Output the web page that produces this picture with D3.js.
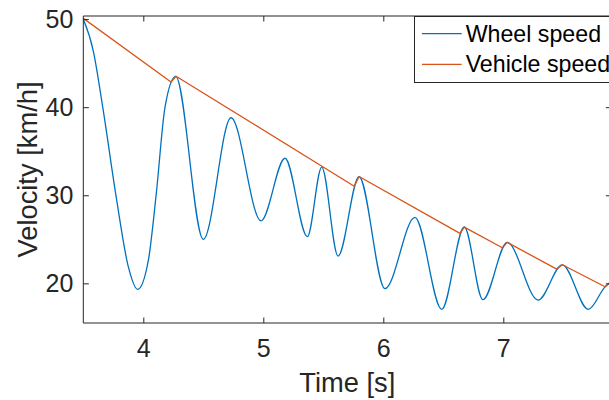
<!DOCTYPE html>
<html>
<head>
<meta charset="utf-8">
<script src="https://cdn.jsdelivr.net/npm/d3@7"></script>
<style>
  html, body { margin: 0; padding: 0; background: #fff; }
  svg { display: block; font-family: Arial, "Liberation Sans", sans-serif; }
</style>
</head>
<body>
<div id="chart"></div>
<script>
// Wheel speed during braking (ABS cycles) [time s, km/h]
const wheelTime  = [3.500, 3.583, 3.662, 3.773, 3.875, 3.953, 4.042, 4.106, 4.181, 4.270,
                    4.500, 4.731, 4.981, 5.181, 5.367, 5.487, 5.623, 5.798, 6.014, 6.264,
                    6.487, 6.675, 6.830, 7.033, 7.290, 7.492, 7.708, 7.848, 7.881, 7.900];
const wheelSpeed = [50.0, 46.4, 40.0, 29.9, 21.9, 19.32, 22.6, 29.9, 40.0, 43.5,
                    25.0, 38.8, 27.1, 34.2, 25.3, 33.2, 23.1, 32.1, 19.4, 27.5,
                    17.05, 26.4, 18.15, 24.65, 18.1, 22.1, 17.05, 19.6, 20.0, 20.25];

// Estimated vehicle speed [time s, km/h]
const vehicleTime  = [3.500, 4.231, 4.273, 5.758, 5.798, 6.639, 6.675, 6.992, 7.033,
                      7.445, 7.492, 7.848, 7.881, 7.900];
const vehicleSpeed = [50.08, 42.86, 43.51, 31.03, 32.13, 25.67, 26.38, 24.04, 24.65,
                      21.62, 22.11, 19.61, 20.0, 20.25];

const xTicks = [4, 5, 6, 7];
const yTicks = [20, 30, 40, 50];
const seriesNames = ["Wheel speed", "Vehicle speed"];
const seriesColors = ["#0072BD", "#D95319"];

const W = 609, H = 400;
const m = { left: 83.3, top: 16, right: 611.3, bottom: 323 };
const axisColor = "#262626";

const svg = d3.select("#chart").append("svg")
  .attr("width", W).attr("height", H);

const x = d3.scaleLinear().domain([3.5, 7.9]).range([m.left, m.right]);
const y = d3.scaleLinear().domain([15.5, 50.35]).range([m.bottom, m.top]);

svg.append("defs").append("clipPath").attr("id", "plotClip")
  .append("rect")
  .attr("x", m.left).attr("y", m.top)
  .attr("width", m.right - m.left).attr("height", m.bottom - m.top);

// Data lines
const plot = svg.append("g").attr("clip-path", "url(#plotClip)");

const wheelData = wheelTime.map((t, i) => [t, wheelSpeed[i]]);
const vehicleData = vehicleTime.map((t, i) => [t, vehicleSpeed[i]]);

plot.append("path")
  .datum(wheelData)
  .attr("fill", "none")
  .attr("stroke", seriesColors[0])
  .attr("stroke-width", 1.3)
  .attr("d", d3.line().x(d => x(d[0])).y(d => y(d[1])).curve(d3.curveMonotoneX));

plot.append("path")
  .datum(vehicleData)
  .attr("fill", "none")
  .attr("stroke", seriesColors[1])
  .attr("stroke-width", 1.3)
  .attr("stroke-linejoin", "round")
  .attr("d", d3.line().x(d => x(d[0])).y(d => y(d[1])));

// Axes (box style, ticks pointing inward)
const tickLen = 5.5;
const tickFont = 25;

const xBottom = svg.append("g").attr("transform", `translate(0,${m.bottom})`)
  .call(d3.axisBottom(x).tickValues(xTicks).tickSize(-tickLen).tickPadding(16).tickFormat(d3.format("d")));
const xTop = svg.append("g").attr("transform", `translate(0,${m.top})`)
  .call(d3.axisTop(x).tickValues(xTicks).tickSize(-tickLen).tickFormat(""));
const yLeft = svg.append("g").attr("transform", `translate(${m.left},0)`)
  .call(d3.axisLeft(y).tickValues(yTicks).tickSize(-tickLen).tickPadding(10).tickFormat(d3.format("d")));
const yRight = svg.append("g").attr("transform", `translate(${m.right},0)`)
  .call(d3.axisRight(y).tickValues(yTicks).tickSize(-tickLen).tickFormat(""));

[xBottom, xTop, yLeft, yRight].forEach(g => {
  g.select(".domain").attr("stroke", axisColor).attr("stroke-width", 1)
    .attr("d", g === xBottom || g === xTop
      ? `M${m.left},0H${m.right}`
      : `M0,${m.top}V${m.bottom}`);
  g.selectAll(".tick line").attr("stroke", axisColor).attr("stroke-width", 1);
  g.selectAll(".tick text")
    .attr("fill", axisColor)
    .style("font-size", tickFont + "px")
    .style("font-family", "Arial, 'Liberation Sans', sans-serif");
});
xBottom.selectAll(".tick text").attr("dy", "0.71em");

// Axis titles
svg.append("text")
  .attr("x", (m.left + m.right) / 2).attr("y", 392)
  .attr("text-anchor", "middle")
  .attr("fill", axisColor)
  .style("font-size", "27.3px")
  .text("Time [s]");

svg.append("text")
  .attr("transform", `translate(37,${(m.top + m.bottom) / 2}) rotate(-90)`)
  .attr("text-anchor", "middle")
  .attr("fill", axisColor)
  .style("font-size", "27.3px")
  .text("Velocity [km/h]");

// Legend
const legend = svg.append("g");
legend.append("rect")
  .attr("x", 414.5).attr("y", 16.5)
  .attr("width", 260).attr("height", 66)
  .attr("fill", "#fff")
  .attr("stroke", axisColor)
  .attr("stroke-width", 1);

const legendRows = [33.7, 64.3];
seriesNames.forEach((name, i) => {
  legend.append("line")
    .attr("x1", 422).attr("x2", 461.7)
    .attr("y1", legendRows[i]).attr("y2", legendRows[i])
    .attr("stroke", seriesColors[i])
    .attr("stroke-width", 1.3);
  legend.append("text")
    .attr("x", 465.7).attr("y", legendRows[i] + 7.8)
    .attr("fill", "#000")
    .style("font-size", "23.2px")
    .text(name);
});
</script>
</body>
</html>
